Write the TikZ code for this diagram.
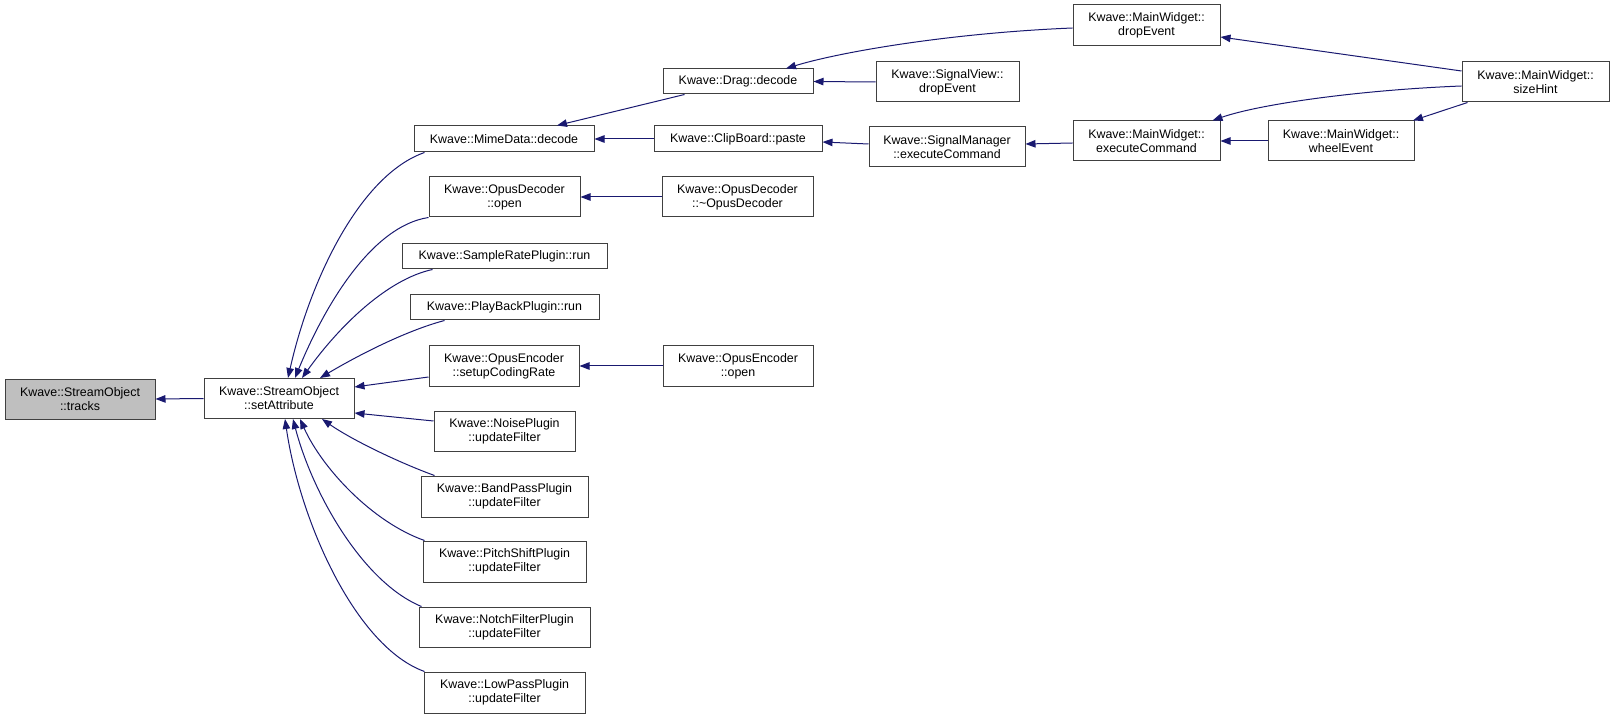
\documentclass[tikz,border=0pt]{standalone}
\usepackage{fontspec}
\setmainfont{Liberation Sans}
\usetikzlibrary{arrows.meta}
\definecolor{edgeblue}{HTML}{191970}
\definecolor{boxline}{HTML}{404040}
\definecolor{hilite}{HTML}{BFBFBF}
\tikzset{
  fn/.style={draw=boxline, line width=1pt, fill=white, inner sep=0pt, align=center,
    font=\fontsize{12.4}{14}\selectfont},
  cur/.style={fn, fill=hilite},
  edge/.style={draw=edgeblue, line width=1pt, {Triangle[length=10pt,width=7.5pt]}-}
}
\begin{document}
\begin{tikzpicture}[x=1pt,y=1pt]
\useasboundingbox (0,0) rectangle (1615,-719);
% column 0
\node[cur, minimum width=150pt, minimum height=40pt] (tr) at (80,-399) {Kwave::StreamObject\\::tracks};
% column 1
\node[fn, minimum width=150pt, minimum height=40pt] (sa) at (279,-398.5) {Kwave::StreamObject\\::setAttribute};
% column 2
\node[fn, minimum width=180pt, minimum height=26pt] (md) at (504,-139) {Kwave::MimeData::decode};
\node[fn, minimum width=151pt, minimum height=40pt] (odo) at (504.5,-197) {Kwave::OpusDecoder\\::open};
\node[fn, minimum width=205pt, minimum height=25pt] (srp) at (504.5,-256.5) {Kwave::SampleRatePlugin::run};
\node[fn, minimum width=189pt, minimum height=25pt] (pbp) at (504.5,-307.5) {Kwave::PlayBackPlugin::run};
\node[fn, minimum width=150pt, minimum height=40pt] (scr) at (504,-366) {Kwave::OpusEncoder\\::setupCodingRate};
\node[fn, minimum width=141pt, minimum height=40pt] (np) at (504.5,-431) {Kwave::NoisePlugin\\::updateFilter};
\node[fn, minimum width=167pt, minimum height=41pt] (bpp) at (504.5,-496.5) {Kwave::BandPassPlugin\\::updateFilter};
\node[fn, minimum width=163pt, minimum height=41pt] (psp) at (504.5,-561.5) {Kwave::PitchShiftPlugin\\::updateFilter};
\node[fn, minimum width=171pt, minimum height=40pt] (nfp) at (504.5,-627) {Kwave::NotchFilterPlugin\\::updateFilter};
\node[fn, minimum width=161pt, minimum height=41pt] (lpp) at (504.5,-692.5) {Kwave::LowPassPlugin\\::updateFilter};
% column 3
\node[fn, minimum width=150pt, minimum height=25pt] (dd) at (738,-81.5) {Kwave::Drag::decode};
\node[fn, minimum width=168pt, minimum height=26pt] (cbp) at (738,-139) {Kwave::ClipBoard::paste};
\node[fn, minimum width=151pt, minimum height=40pt] (odd) at (737.5,-197) {Kwave::OpusDecoder\\::\textasciitilde OpusDecoder};
\node[fn, minimum width=150pt, minimum height=40pt] (oeo) at (738,-366) {Kwave::OpusEncoder\\::open};
% column 4
\node[fn, minimum width=143pt, minimum height=40pt] (svd) at (947.5,-82) {Kwave::SignalView::\\dropEvent};
\node[fn, minimum width=156pt, minimum height=40pt] (smc) at (947,-147) {Kwave::SignalManager\\::executeCommand};
% column 5
\node[fn, minimum width=147pt, minimum height=41pt] (mwd) at (1146.5,-25.5) {Kwave::MainWidget::\\dropEvent};
\node[fn, minimum width=147pt, minimum height=40pt] (mwe) at (1146.5,-141) {Kwave::MainWidget::\\executeCommand};
% column 6
\node[fn, minimum width=146pt, minimum height=40pt] (mww) at (1341,-141) {Kwave::MainWidget::\\wheelEvent};
% column 7
\node[fn, minimum width=147pt, minimum height=40pt] (mws) at (1535.5,-82) {Kwave::MainWidget::\\sizeHint};

% edges
\draw[edge] (tr.east) -- (sa.west);
\draw[edge] ([xshift=9pt]sa.north) .. controls (310,-280) and (360,-175) .. ([xshift=11pt]md.south west);
\draw[edge] ([xshift=16pt]sa.north) .. controls (325,-305) and (372,-226) .. (odo.south west);
\draw[edge] ([xshift=23pt]sa.north) .. controls (340,-325) and (388,-279) .. ([xshift=31pt]srp.south west);
\draw[edge] ([xshift=41pt]sa.north) .. controls (357,-356) and (405,-331) .. ([xshift=35pt]pbp.south west);
\draw[edge] ([yshift=11.5pt]sa.east) -- ([yshift=-11pt]scr.west);
\draw[edge] ([yshift=-14.5pt]sa.east) -- ([yshift=10pt]np.west);
\draw[edge] ([xshift=43pt]sa.south) .. controls (352,-440) and (400,-463) .. ([xshift=14pt]bpp.north west);
\draw[edge] ([xshift=21pt]sa.south) .. controls (322,-468) and (372,-522) .. ([xshift=2pt]psp.north west);
\draw[edge] ([xshift=14pt]sa.south) .. controls (312,-492) and (362,-582) .. ([xshift=3pt]nfp.north west);
\draw[edge] ([xshift=6pt]sa.south) .. controls (300,-522) and (356,-647) .. ([xshift=1pt]lpp.north west);
\draw[edge] ([xshift=53pt]md.north) -- ([xshift=22pt]dd.south west);
\draw[edge] (md.east) -- (cbp.west);
\draw[edge] (odo.east) -- (odd.west);
\draw[edge] (scr.east) -- (oeo.west);
\draw[edge] ([xshift=48pt]dd.north) .. controls (840,-52) and (950,-33) .. ([yshift=-2.5pt]mwd.west);
\draw[edge] (dd.east) -- (svd.west);
\draw[edge] ([yshift=-3pt]cbp.east) -- ([yshift=3pt]smc.west);
\draw[edge] ([yshift=3pt]smc.east) -- ([yshift=-2pt]mwe.west);
\draw[edge] ([yshift=-11.5pt]mwd.east) -- ([yshift=11pt]mws.west);
\draw[edge] ([xshift=66pt]mwe.north) .. controls (1260,-104) and (1360,-90) .. ([yshift=-4pt]mws.west);
\draw[edge] (mwe.east) -- (mww.west);
\draw[edge] ([xshift=72pt]mww.north) -- ([xshift=6pt]mws.south west);
\end{tikzpicture}
\end{document}
